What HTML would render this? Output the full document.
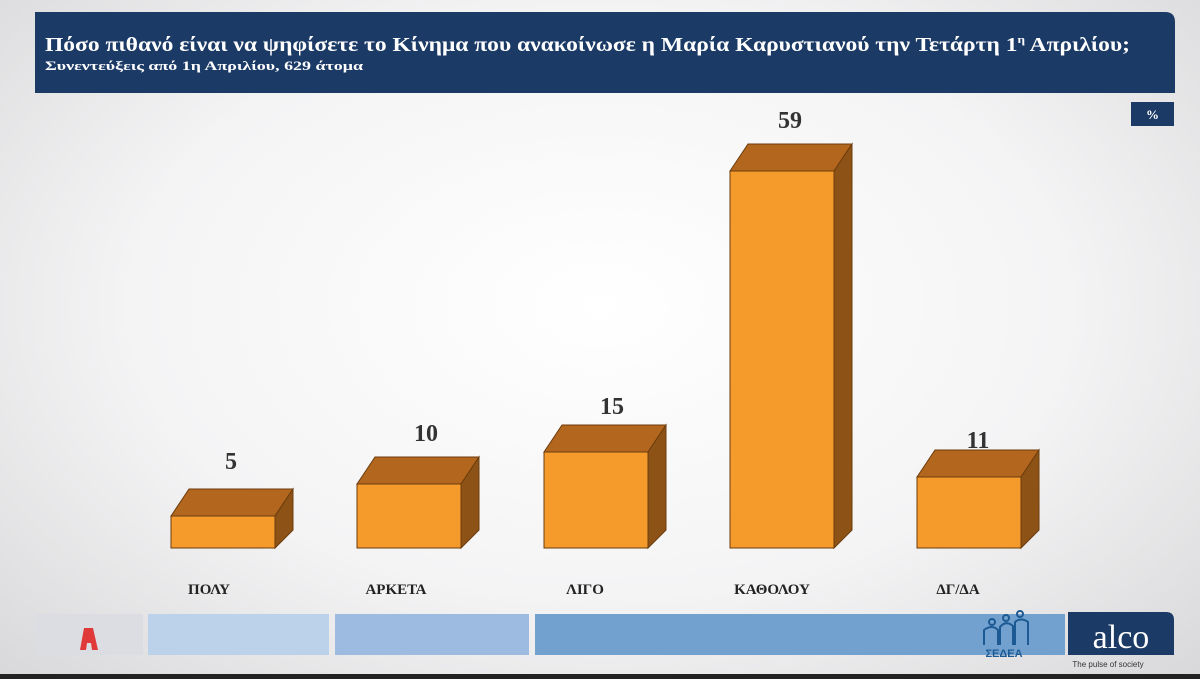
<!DOCTYPE html>
<html><head><meta charset="utf-8"><style>
html,body{margin:0;padding:0}
body{width:1200px;height:679px;overflow:hidden;background:radial-gradient(ellipse at 50% 45%,#ffffff 0%,#f4f4f5 55%,#d8d8da 100%);font-family:"Liberation Serif",serif;}
</style></head><body>
<svg width="1200" height="679" xmlns="http://www.w3.org/2000/svg" style="position:absolute;left:0;top:0">
<path d="M35 12 H1165 Q1175 12 1175 22 V93 H35 Z" fill="#1b3a66"/>
<text x="45" y="51" font-family="Liberation Serif,serif" font-weight="bold" font-size="19.5" fill="#fff" textLength="1085" lengthAdjust="spacingAndGlyphs">Πόσο πιθανό είναι να ψηφίσετε το Κίνημα που ανακοίνωσε η Μαρία Καρυστιανού την Τετάρτη 1<tspan font-size="11" dy="-8">η</tspan><tspan dy="8"> Απριλίου;</tspan></text>
<text x="45" y="70" font-family="Liberation Serif,serif" font-weight="bold" font-size="13" fill="#fff" textLength="318" lengthAdjust="spacingAndGlyphs">Συνεντεύξεις από 1η Απριλίου, 629 άτομα</text>
<rect x="1131" y="102" width="43" height="24" fill="#1b3a66"/>
<text x="1152.5" y="119" text-anchor="middle" font-weight="bold" font-size="13" fill="#fff">%</text>
<g stroke="#6b3b0c" stroke-width="1">
<polygon points="171,516 189,489 293,489 275,516" fill="#b3671e"/><polygon points="275,516 293,489 293,530 275,548" fill="#8d5316"/><rect x="171" y="516" width="104" height="32" fill="#f49b2c"/>
<polygon points="357,484 375,457 479,457 461,484" fill="#b3671e"/><polygon points="461,484 479,457 479,530 461,548" fill="#8d5316"/><rect x="357" y="484" width="104" height="64" fill="#f49b2c"/>
<polygon points="544,452 562,425 666,425 648,452" fill="#b3671e"/><polygon points="648,452 666,425 666,530 648,548" fill="#8d5316"/><rect x="544" y="452" width="104" height="96" fill="#f49b2c"/>
<polygon points="730,171 748,144 852,144 834,171" fill="#b3671e"/><polygon points="834,171 852,144 852,530 834,548" fill="#8d5316"/><rect x="730" y="171" width="104" height="377" fill="#f49b2c"/>
<polygon points="917,477 935,450 1039,450 1021,477" fill="#b3671e"/><polygon points="1021,477 1039,450 1039,530 1021,548" fill="#8d5316"/><rect x="917" y="477" width="104" height="71" fill="#f49b2c"/>
</g>
<g font-family="Liberation Serif,serif" font-weight="bold" font-size="24" fill="#333" text-anchor="middle">
<text x="231" y="469">5</text><text x="426" y="441">10</text><text x="612" y="414">15</text><text x="790" y="128">59</text><text x="978" y="448">11</text>
</g>
<g font-family="Liberation Serif,serif" font-weight="bold" font-size="15" fill="#222" text-anchor="middle">
<text x="209" y="594">ΠΟΛΥ</text><text x="396" y="594">ΑΡΚΕΤΑ</text><text x="585" y="594">ΛΙΓΟ</text><text x="772" y="594">ΚΑΘΟΛΟΥ</text><text x="958" y="594">ΔΓ/ΔΑ</text>
</g>
<rect x="35" y="614" width="108" height="41" fill="#dcdde3"/>
<path d="M84 628 L80 650 H86 L87 643 H91 L92 650 H98 L93 628 Z" fill="#e0393a"/>
<rect x="148" y="614" width="181" height="41" fill="#bcd1ea"/>
<rect x="335" y="614" width="194" height="41" fill="#9dbbe0"/>
<rect x="535" y="614" width="530" height="41" fill="#73a1cf"/>
<g fill="none" stroke="#1d5a93" stroke-width="2"><circle cx="992" cy="622" r="3"/><circle cx="1006" cy="618" r="3"/><circle cx="1020" cy="614" r="3"/><path d="M984 645 V630 Q992 624 998 630 V645 M1000 645 V627 Q1006 620 1013 626 V645 M1015 645 V622 Q1021 617 1028 622 V645"/></g>
<text x="1004" y="657" text-anchor="middle" font-family="Liberation Sans,sans-serif" font-size="11" fill="#1d5a93" font-weight="bold">ΣΕΔΕΑ</text>
<path d="M1068 612 H1166 Q1174 612 1174 620 V655 H1068 Z" fill="#1b3a66"/>
<text x="1121" y="648" text-anchor="middle" font-family="Liberation Serif,serif" font-size="34" fill="#fff">alco</text>
<text x="1108" y="667" text-anchor="middle" font-family="Liberation Sans,sans-serif" font-size="8" fill="#333">The pulse of society</text>
<rect x="0" y="674" width="1200" height="5" fill="#222"/>
</svg>
</body></html>
